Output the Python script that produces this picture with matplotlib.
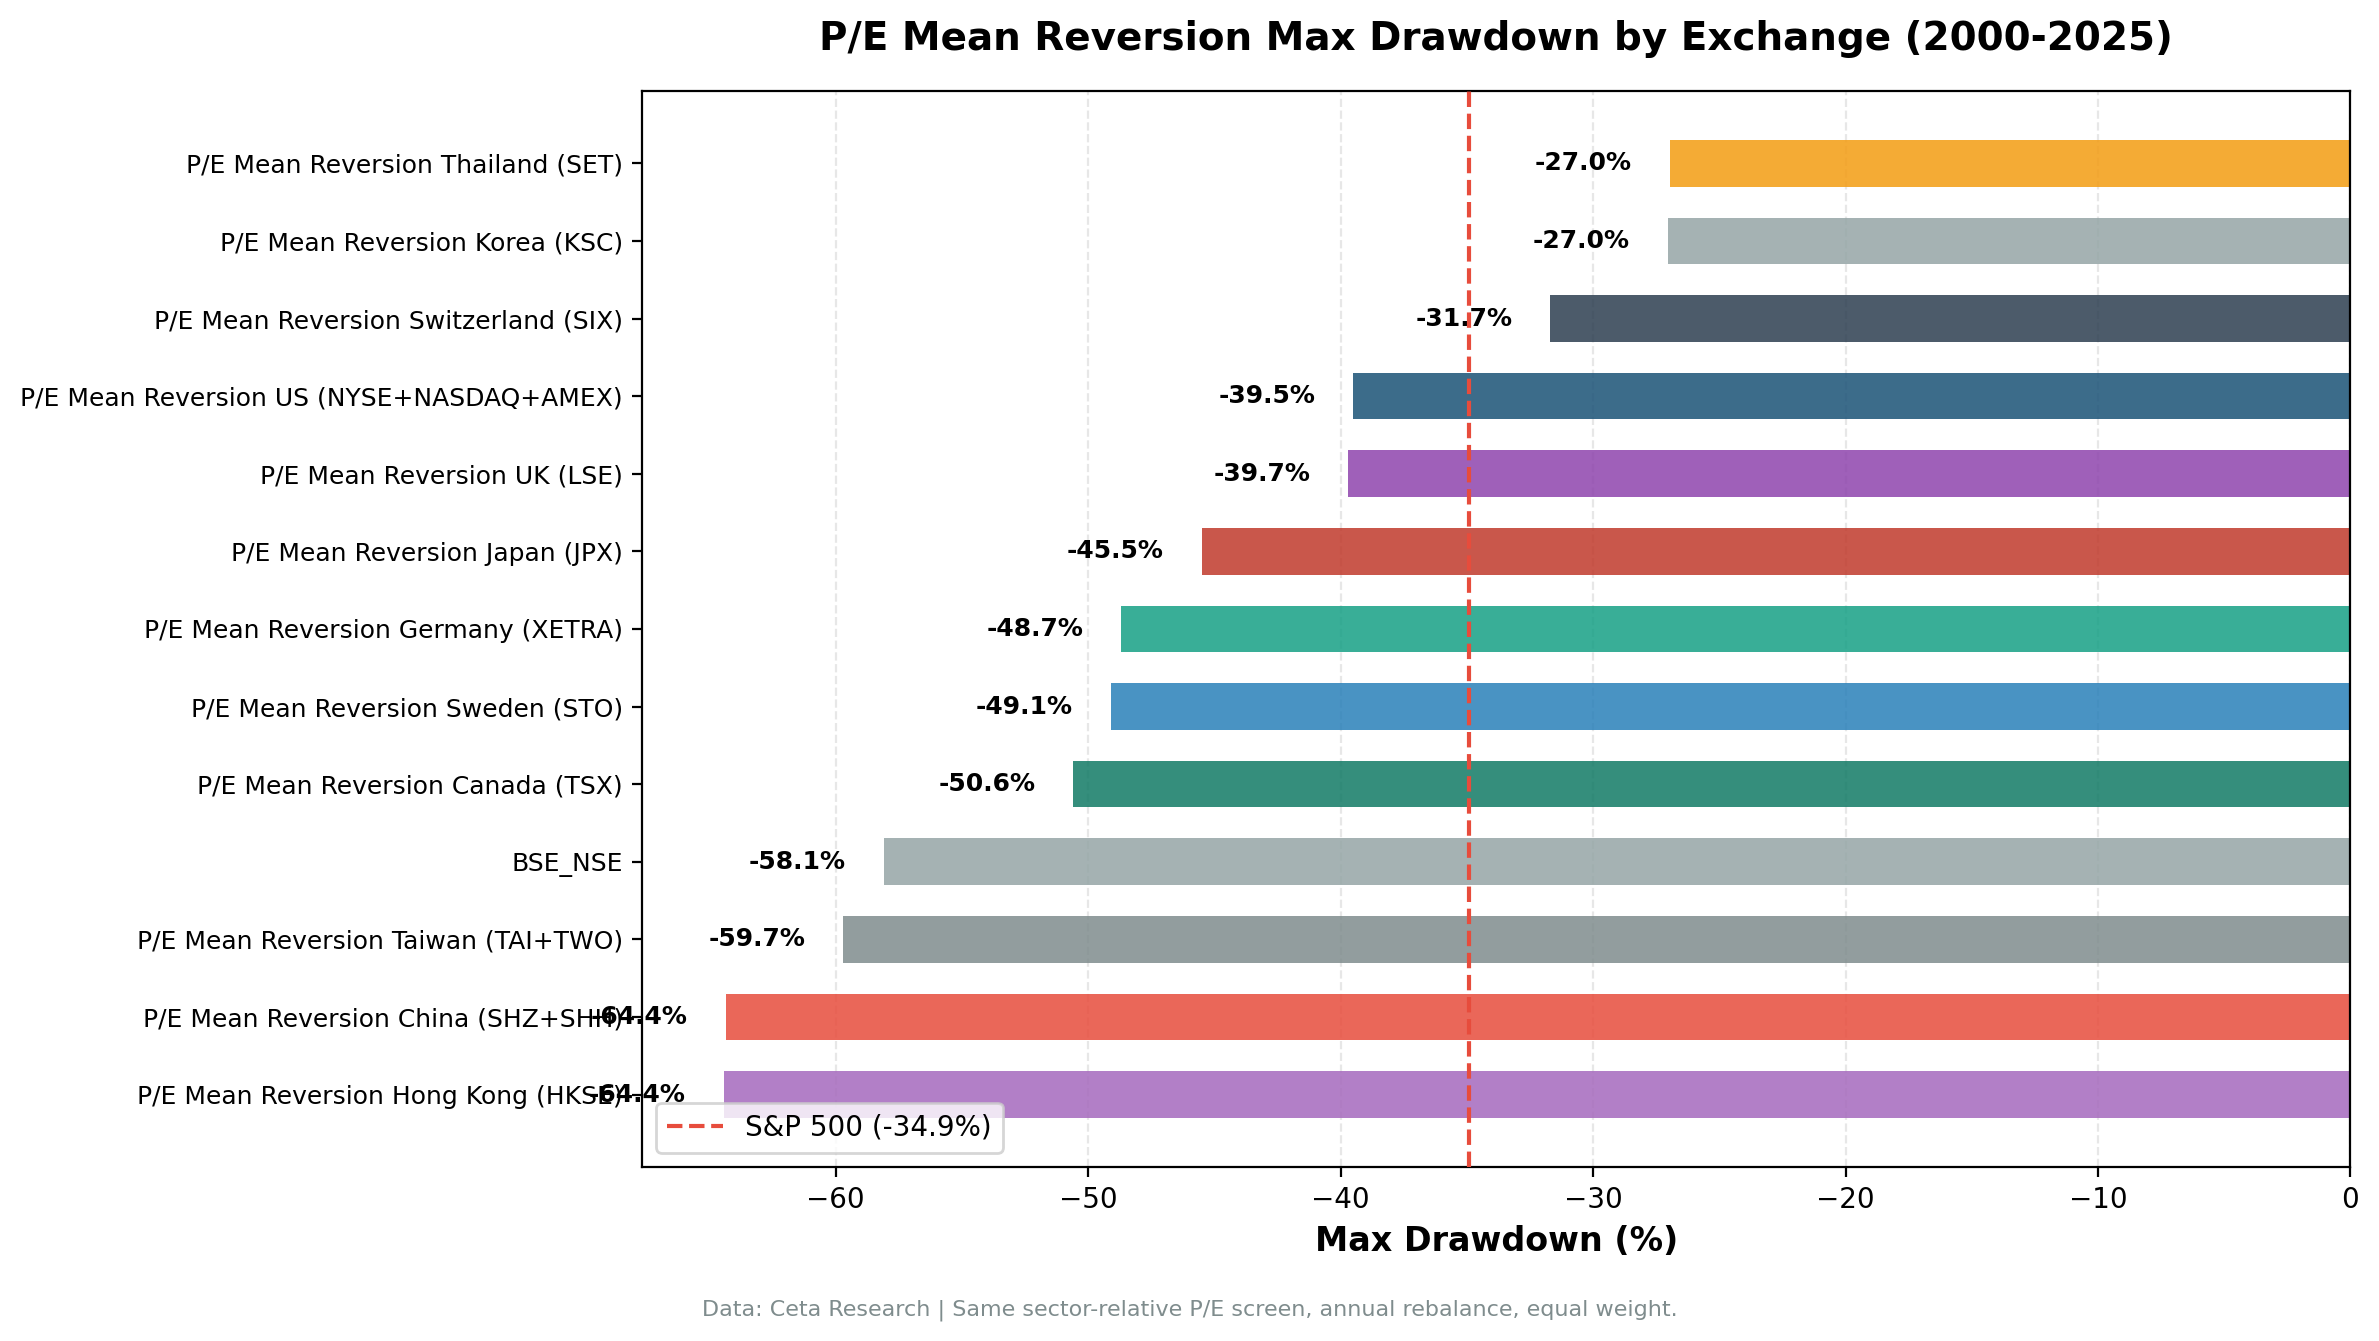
import matplotlib
matplotlib.use("Agg")
import matplotlib.pyplot as plt

exchanges = [
    "P/E Mean Reversion Hong Kong (HKSE)",
    "P/E Mean Reversion China (SHZ+SHH)",
    "P/E Mean Reversion Taiwan (TAI+TWO)",
    "BSE_NSE",
    "P/E Mean Reversion Canada (TSX)",
    "P/E Mean Reversion Sweden (STO)",
    "P/E Mean Reversion Germany (XETRA)",
    "P/E Mean Reversion Japan (JPX)",
    "P/E Mean Reversion UK (LSE)",
    "P/E Mean Reversion US (NYSE+NASDAQ+AMEX)",
    "P/E Mean Reversion Switzerland (SIX)",
    "P/E Mean Reversion Korea (KSC)",
    "P/E Mean Reversion Thailand (SET)",
]
max_drawdown = [-64.44, -64.36, -59.7, -58.1, -50.6, -49.1, -48.7, -45.5, -39.7, -39.5, -31.7, -27.04, -26.96]
colors = ["#a569bd", "#e74c3c", "#7f8c8d", "#95a5a6", "#117a65", "#2980b9", "#16a085",
          "#c0392b", "#8e44ad", "#1a5276", "#2c3e50", "#95a5a6", "#f39c12"]
spx_drawdown = -34.9

DPI = 200
fig, ax = plt.subplots(figsize=(2379/DPI, 1341/DPI), dpi=DPI)
fig.subplots_adjust(left=0.270, right=0.988, top=0.932, bottom=0.130)

y = range(len(exchanges))
ax.barh(y, max_drawdown, height=0.6, color=colors, alpha=0.85, zorder=2)
for yi, v in zip(y, max_drawdown):
    ax.text(v - 1.5, yi, f"{v:.1f}%", ha="right", va="center", fontsize=9,
            fontweight="bold", zorder=3)

ax.axvline(spx_drawdown, color="#e74c3c", linestyle="--", linewidth=1.5,
           label=f"S&P 500 ({spx_drawdown:.1f}%)", zorder=3)

ax.set_yticks(list(y))
ax.set_yticklabels(exchanges, fontsize=9)
ax.set_xlim(min(max_drawdown) * 1.05, 0)
ax.tick_params(axis="x", labelsize=10)
ax.set_xlabel("Max Drawdown (%)", fontsize=12, fontweight="bold")
ax.set_title("P/E Mean Reversion Max Drawdown by Exchange (2000-2025)",
             fontsize=14, fontweight="bold", pad=15)
ax.grid(axis="x", linestyle="--", alpha=0.3, zorder=0)
ax.legend(loc="lower left", fontsize=10)

fig.text(0.5, 0.019, "Data: Ceta Research | Same sector-relative P/E screen, annual rebalance, equal weight.",
         ha="center", fontsize=8, color="#7f8c8d")

fig.savefig("out.png", dpi=DPI)
